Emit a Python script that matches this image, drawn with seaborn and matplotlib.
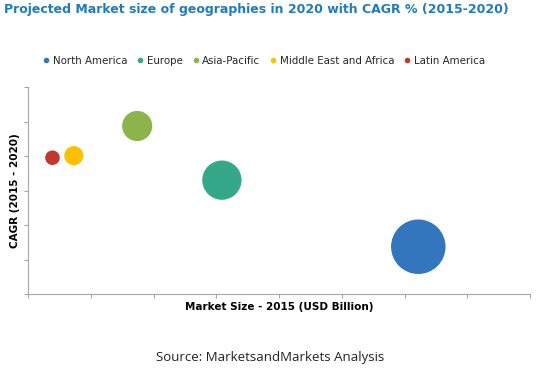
import matplotlib
matplotlib.use("Agg")
import matplotlib.pyplot as plt
import seaborn as sns
import pandas as pd

# data (axis has no tick labels, units are relative)
regions = ["North America", "Europe", "Asia-Pacific", "Middle East and Africa", "Latin America"]
market_size_2015 = [6.22, 3.09, 1.74, 0.73, 0.39]
cagr = [1.37, 3.30, 4.87, 4.01, 3.95]
market_size_2020 = [7.7, 4.0, 2.35, 0.95, 0.55]
colors = ["#3476BE", "#35A88A", "#8CB44A", "#FFC000", "#C0392B"]

df = pd.DataFrame({
    "Region": regions,
    "Market Size 2015": market_size_2015,
    "CAGR": cagr,
    "Market Size 2020": market_size_2020,
})

sns.set_theme(style="white")
plt.rcParams["font.family"] = ["DejaVu Sans"]

fig = plt.figure(figsize=(5.53, 3.71), dpi=100)
ax = fig.add_axes([28 / 553, 1 - 294 / 371, (530 - 28) / 553, (294 - 87) / 371])

k = 200
sns.scatterplot(
    data=df, x="Market Size 2015", y="CAGR",
    hue="Region", palette=colors, hue_order=regions,
    size="Market Size 2020", sizes=(k * min(market_size_2020), k * max(market_size_2020)),
    size_norm=(min(market_size_2020), max(market_size_2020)),
    linewidth=0, alpha=1, legend=False, ax=ax,
)

ax.set_xlim(0, 8)
ax.set_ylim(0, 6)
ax.set_xticks(range(0, 9))
ax.set_yticks(range(0, 7))
ax.set_xticklabels([])
ax.set_yticklabels([])
ax.tick_params(axis="both", length=3, width=0.8, color="#A6A6A6", direction="out",
               bottom=True, left=True)
for side in ["top", "right"]:
    ax.spines[side].set_visible(False)
for side in ["left", "bottom"]:
    ax.spines[side].set_color("#A6A6A6")
    ax.spines[side].set_linewidth(0.8)

ax.set_xlabel("Market Size - 2015 (USD Billion)", fontsize=7.5, fontweight="bold",
              color="black", labelpad=-1)
ax.set_ylabel("CAGR (2015 - 2020)", fontsize=7.5, fontweight="bold",
              color="black", labelpad=-1)

# legend
handles = [plt.Line2D([], [], marker="o", linestyle="", markersize=4,
                      markerfacecolor=c, markeredgewidth=0) for c in colors]
fig.legend(handles, regions, loc="center", bbox_to_anchor=(263 / 553, 1 - 61 / 371),
           ncol=5, frameon=False, fontsize=7.4, handletextpad=0.1, columnspacing=0.8,
           handlelength=1.0)

fig.text(4 / 553, 1 - 10 / 371,
         "Projected Market size of geographies in 2020 with CAGR % (2015-2020)",
         fontsize=9.0, fontweight="bold", color="#1F7BC1", ha="left", va="center")
fig.text(270 / 553, 1 - 357 / 371, "Source: MarketsandMarkets Analysis",
         fontsize=9.5, color="#222222", ha="center", va="center",
         family=["Open Sans", "DejaVu Sans"])

fig.savefig("out.png", dpi=100)
